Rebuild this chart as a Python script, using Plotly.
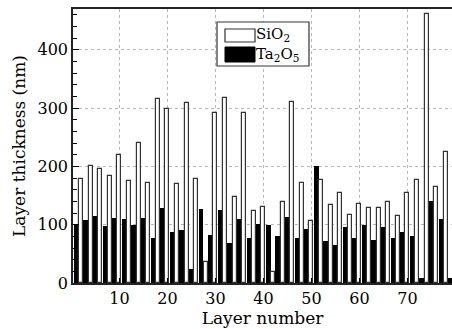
import plotly.graph_objects as go

# Layer numbers and thicknesses (nm)
ta2o5_layers = list(range(1, 80, 2))
ta2o5_thickness = [101, 108, 115, 97, 112, 109, 100, 112, 77, 129,
                   88, 91, 24, 127, 83, 126, 68, 110, 77, 102,
                   99, 81, 113, 78, 93, 200, 72, 65, 96, 78,
                   99, 73, 96, 77, 87, 81, 9, 140, 110, 9]

sio2_layers = list(range(2, 79, 2))
sio2_thickness = [178, 200, 195, 184, 219, 175, 240, 171, 316, 299,
                  170, 308, 178, 36, 291, 317, 148, 291, 124, 130,
                  19, 139, 311, 172, 107, 176, 133, 154, 117, 136,
                  128, 128, 139, 115, 155, 176, 462, 164, 224]

x_ticks = [10, 20, 30, 40, 50, 60, 70]
y_ticks = [0, 100, 200, 300, 400]

FONT = "DejaVu Serif"
W, H = 452, 329
ML, MR, MT, MB = 73, 0, 9, 46
PW, PH = W - ML - MR, H - MT - MB


def px(xp):
    return (xp - ML) / PW


def py(yp):
    return (H - MB - yp) / PH


fig = go.Figure()
fig.add_trace(go.Bar(x=ta2o5_layers, y=ta2o5_thickness, name="Ta2O5",
                     width=1.0, marker=dict(color="black", line=dict(width=0)),
                     showlegend=False))
fig.add_trace(go.Bar(x=sio2_layers, y=sio2_thickness, name="SiO2",
                     width=0.82, marker=dict(color="white", line=dict(color="#333333", width=1.2)),
                     showlegend=False))

# Manual legend
shapes = [
    dict(type="rect", xref="paper", yref="paper", x0=px(217), x1=px(309), y0=py(66), y1=py(22),
         line=dict(color="#333333", width=1.2), fillcolor="white", layer="above"),
    dict(type="rect", xref="paper", yref="paper", x0=px(225), x1=px(255), y0=py(42), y1=py(29),
         line=dict(color="#333333", width=1.2), fillcolor="white", layer="above"),
    dict(type="rect", xref="paper", yref="paper", x0=px(225), x1=px(255), y0=py(62), y1=py(47),
         line=dict(color="black", width=1), fillcolor="black", layer="above"),
]
annotations = [
    dict(xref="paper", yref="paper", x=px(255), y=py(45), xanchor="left", yanchor="middle",
         align="left", borderpad=0,
         text="SiO<sub>2</sub><br>Ta<sub>2</sub>O<sub>5</sub>", showarrow=False,
         font=dict(family=FONT, size=15, color="black")),
]

fig.update_layout(
    width=W, height=H,
    margin=dict(l=ML, r=MR, t=MT, b=MB, pad=0),
    plot_bgcolor="white", paper_bgcolor="white",
    barmode="overlay", bargap=0,
    font=dict(family=FONT, size=16, color="black"),
    shapes=shapes, annotations=annotations,
)
fig.update_xaxes(
    range=[0.33, 79.29], tickvals=x_ticks, ticks="inside", ticklen=5, tickcolor="black",
    showline=True, linecolor="#222222", linewidth=1.5, mirror=True,
    showgrid=True, gridcolor="#b8b8b8", griddash="dot", gridwidth=1, zeroline=False,
    title=dict(text="Layer number", font=dict(family=FONT, size=17), standoff=4),
    tickfont=dict(family=FONT, size=16),
)
fig.update_yaxes(
    range=[0, 470], tickvals=y_ticks, ticks="inside", ticklen=6, tickcolor="black",
    minor=dict(dtick=20, ticks="inside", ticklen=4, tickcolor="black", showgrid=False),
    showline=True, linecolor="#222222", linewidth=1.5, mirror=False,
    showgrid=True, gridcolor="#b8b8b8", griddash="dot", gridwidth=1, zeroline=False,
    title=dict(text="Layer thickness (nm)", font=dict(family=FONT, size=17), standoff=8),
    tickfont=dict(family=FONT, size=16),
)

fig.write_html("out.html")
